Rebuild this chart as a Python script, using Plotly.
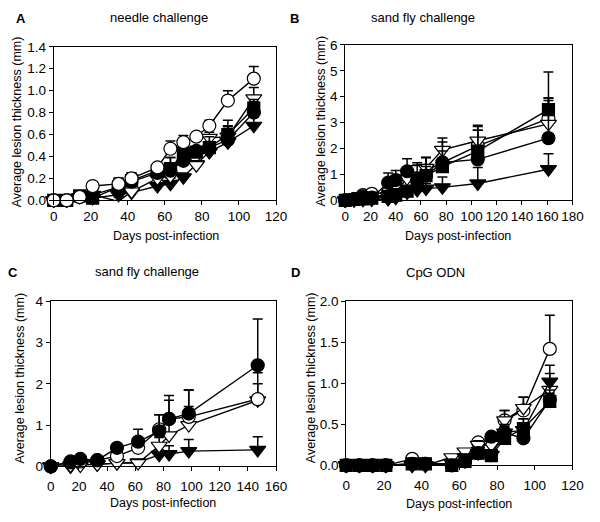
import plotly.graph_objects as go
from plotly.subplots import make_subplots

# ---- data ----
days_a = [0, 7, 14, 21, 35, 42, 56, 63, 70, 77, 84, 94, 108]
a_open_circ = [0, 0, 0.03, 0.13, 0.15, 0.20, 0.30, 0.47, 0.53, 0.58, 0.68, 0.91, 1.11]
a_open_circ_err = [0, 0, 0.01, 0.02, 0.05, 0.05, 0.02, 0.07, 0.06, 0.02, 0.05, 0.09, 0.11]
a_fill_circ = [0, 0, 0.03, 0.05, 0.12, 0.17, 0.25, 0.27, 0.36, 0.45, 0.48, 0.55, 0.80]
a_fill_circ_err = [0, 0, 0.01, 0.02, 0.06, 0.06, 0.03, 0.12, 0.08, 0.03, 0.05, 0.12, 0.10]
a_open_tri = [0, 0, -0.01, 0.05, -0.01, 0.08, 0.20, 0.22, 0.44, 0.32, 0.57, 0.58, 0.93]
a_open_tri_err = [0, 0, 0.01, 0.02, 0.04, 0.05, 0.03, 0.06, 0.06, 0.03, 0.05, 0.10, 0.10]
a_fill_tri = [0, 0, 0.03, 0.02, 0.05, 0.07, 0.13, 0.15, 0.21, 0.33, 0.44, 0.53, 0.68]
a_fill_tri_err = [0, 0, 0.01, 0.01, 0.04, 0.04, 0.03, 0.05, 0.04, 0.03, 0.04, 0.08, 0.08]
a_fill_sq = [0, 0, 0.04, 0.02, 0.12, 0.18, 0.27, 0.29, 0.43, 0.44, 0.48, 0.60, 0.84]
a_fill_sq_err = [0, 0, 0.01, 0.01, 0.08, 0.07, 0.03, 0.10, 0.07, 0.03, 0.10, 0.13, 0.08]

days_b = [0, 7, 14, 21, 34, 40, 49, 57, 64, 77, 105, 161]
b_fill_circ = [0, 0.05, 0.15, 0.10, 0.68, 0.78, 1.12, 0.78, 0.95, 1.46, 1.58, 2.40]
b_fill_circ_err = [0, 0.02, 0.05, 0.05, 0.37, 0.37, 0.48, 0.30, 0.35, 0.44, 1.12, 1.45]
b_open_circ = [0, 0.05, 0.20, 0.25, 0.30, 0.50, 0.60, 1.00, 1.15, 1.45, 2.10, 3.15]
b_open_circ_err = [0, 0.02, 0.05, 0.05, 0.10, 0.15, 0.20, 0.35, 0.50, 0.55, 0.60, 0.80]
b_open_tri = [0, 0.03, 0.05, 0.05, 0.15, 0.30, 0.85, 1.20, 1.25, 1.95, 2.30, 2.95]
b_open_tri_err = [0, 0.02, 0.03, 0.05, 0.10, 0.15, 0.30, 0.25, 0.40, 0.45, 0.55, 1.00]
b_fill_tri = [0, 0, 0.02, 0.03, 0.05, 0.10, 0.30, 0.40, 0.45, 0.50, 0.65, 1.20]
b_fill_tri_err = [0, 0, 0.02, 0.02, 0.05, 0.08, 0.15, 0.15, 0.20, 0.40, 0.62, 0.60]
b_fill_sq = [0, 0.03, 0.05, 0.08, 0.15, 0.20, 0.35, 0.75, 0.95, 1.30, 1.90, 3.50]
b_fill_sq_err = [0, 0.02, 0.03, 0.05, 0.10, 0.15, 0.20, 0.60, 0.70, 0.95, 1.00, 1.45]

days_c = [0, 14, 21, 33, 47, 62, 77, 84, 98, 147]
c_fill_circ = [0, 0.12, 0.18, 0.15, 0.45, 0.60, 0.85, 1.15, 1.28, 2.45]
c_fill_circ_err = [0, 0.03, 0.03, 0.03, 0.05, 0.30, 0.40, 0.57, 0.57, 1.12]
c_open_circ = [0, 0.10, 0.12, 0.15, 0.25, 0.45, 0.90, 1.15, 1.20, 1.63]
c_open_circ_err = [0, 0.02, 0.03, 0.03, 0.05, 0.10, 0.35, 0.45, 0.65, 0.64]
c_open_tri = [0, 0.02, 0.02, 0.05, 0.08, 0.08, 0.50, 0.75, 1.00, 1.60]
c_open_tri_err = [0, 0.02, 0.02, 0.02, 0.03, 0.05, 0.20, 0.35, 0.45, 0.40]
c_fill_tri = [0, 0.0, 0.05, 0.05, 0.08, 0.10, 0.28, 0.30, 0.37, 0.40]
c_fill_tri_err = [0, 0.02, 0.02, 0.02, 0.03, 0.05, 0.12, 0.20, 0.28, 0.32]

days_d = [0, 7, 14, 21, 35, 42, 56, 63, 70, 77, 84, 94, 108]
d_open_circ = [0, 0, 0, 0, 0.08, 0.02, 0.02, 0.05, 0.28, 0.30, 0.55, 0.67, 1.42]
d_open_circ_err = [0, 0, 0, 0, 0.02, 0.02, 0.02, 0.03, 0.02, 0.05, 0.12, 0.16, 0.41]
d_fill_circ = [0, 0, 0, 0, 0.02, 0.02, 0.0, 0.05, 0.15, 0.35, 0.40, 0.33, 0.80]
d_fill_circ_err = [0, 0, 0, 0, 0.02, 0.02, 0.02, 0.03, 0.05, 0.03, 0.07, 0.10, 0.12]
d_open_tri = [0, 0, 0, 0, 0.0, 0.0, 0.10, 0.17, 0.25, 0.25, 0.55, 0.70, 0.92]
d_open_tri_err = [0, 0, 0, 0, 0.02, 0.02, 0.03, 0.03, 0.05, 0.05, 0.12, 0.13, 0.20]
d_fill_tri = [0, 0, 0, 0, 0.0, 0.0, 0.03, 0.10, 0.15, 0.13, 0.40, 0.43, 1.02]
d_fill_tri_err = [0, 0, 0, 0, 0.02, 0.02, 0.03, 0.03, 0.05, 0.05, 0.10, 0.14, 0.20]
d_fill_sq = [0, 0, 0, 0, 0.02, 0.02, 0.0, 0.05, 0.15, 0.12, 0.33, 0.45, 0.78]
d_fill_sq_err = [0, 0, 0, 0, 0.02, 0.02, 0.02, 0.03, 0.05, 0.05, 0.08, 0.12, 0.10]

FONT = "Liberation Sans, Arial, sans-serif"

styles = {
    "fill_tri": dict(symbol="triangle-down", color="black", size=14),
    "open_tri": dict(symbol="triangle-down", color="white", size=14),
    "fill_circ": dict(symbol="circle", color="black", size=13),
    "fill_sq": dict(symbol="square", color="black", size=12),
    "open_circ": dict(symbol="circle", color="white", size=13),
}


def add_series(fig, x, y, err, kind, row, col):
    st = styles[kind]
    fig.add_trace(go.Scatter(
        x=x, y=y, mode="lines+markers", cliponaxis=False,
        line=dict(color="black", width=1.4),
        marker=dict(symbol=st["symbol"], size=st["size"], color=st["color"],
                    line=dict(color="black", width=1.2)),
        error_y=dict(type="data", array=err, arrayminus=[0] * len(err), symmetric=False,
                     color="black", thickness=1.5, width=5),
        showlegend=False), row=row, col=col)


fig = make_subplots(rows=2, cols=2)

add_series(fig, days_a, a_fill_tri, a_fill_tri_err, "fill_tri", 1, 1)
add_series(fig, days_a, a_open_tri, a_open_tri_err, "open_tri", 1, 1)
add_series(fig, days_a, a_fill_circ, a_fill_circ_err, "fill_circ", 1, 1)
add_series(fig, days_a, a_fill_sq, a_fill_sq_err, "fill_sq", 1, 1)
add_series(fig, days_a, a_open_circ, a_open_circ_err, "open_circ", 1, 1)

add_series(fig, days_b, b_fill_tri, b_fill_tri_err, "fill_tri", 1, 2)
add_series(fig, days_b, b_open_circ, b_open_circ_err, "open_circ", 1, 2)
add_series(fig, days_b, b_open_tri, b_open_tri_err, "open_tri", 1, 2)
add_series(fig, days_b, b_fill_circ, b_fill_circ_err, "fill_circ", 1, 2)
add_series(fig, days_b, b_fill_sq, b_fill_sq_err, "fill_sq", 1, 2)

add_series(fig, days_c, c_fill_tri, c_fill_tri_err, "fill_tri", 2, 1)
add_series(fig, days_c, c_open_tri, c_open_tri_err, "open_tri", 2, 1)
add_series(fig, days_c, c_open_circ, c_open_circ_err, "open_circ", 2, 1)
add_series(fig, days_c, c_fill_circ, c_fill_circ_err, "fill_circ", 2, 1)

add_series(fig, days_d, d_open_circ, d_open_circ_err, "open_circ", 2, 2)
add_series(fig, days_d, d_open_tri, d_open_tri_err, "open_tri", 2, 2)
add_series(fig, days_d, d_fill_tri, d_fill_tri_err, "fill_tri", 2, 2)
add_series(fig, days_d, d_fill_circ, d_fill_circ_err, "fill_circ", 2, 2)
add_series(fig, days_d, d_fill_sq, d_fill_sq_err, "fill_sq", 2, 2)

W, H = 600, 522


def px_x(v):
    return v / W


def px_y(v):
    return 1 - v / H


axis_common = dict(showline=True, mirror=True, linecolor="black", linewidth=1,
                   ticks="outside", ticklen=4, tickcolor="black", showgrid=False,
                   zeroline=False, tickfont=dict(family=FONT, size=13.5, color="black"))

# plot boxes in pixels: (x0, x1, ytop, ybottom)
boxes = {
    1: (51, 279, 41, 199),
    2: (350, 583, 39, 199),
    3: (48, 279, 303, 473),
    4: (351, 583, 303, 472),
}
xranges = {1: [0, 120], 2: [0, 180], 3: [0, 160], 4: [0, 120]}
yranges = {1: [0, 1.4], 2: [0, 6], 3: [0, 4], 4: [0, 2]}
ydt = {1: 0.2, 2: 1, 3: 1, 4: 0.5}
yfmt = {1: ".1f", 2: "d", 3: "d", 4: ".1f"}
xstand = {1: 0, 2: 0, 3: 3, 4: 3}

for i in range(1, 5):
    x0, x1, yt, yb = boxes[i]
    sx = "xaxis" if i == 1 else "xaxis%d" % i
    sy = "yaxis" if i == 1 else "yaxis%d" % i
    fig.layout[sx].update(domain=[px_x(x0), px_x(x1)], range=xranges[i], dtick=20,
                          ticklabelstandoff=xstand[i], **axis_common)
    fig.layout[sy].update(domain=[px_y(yb), px_y(yt)], range=yranges[i], dtick=ydt[i],
                          tickformat=yfmt[i], **axis_common)

ann = []


def txt(text, x, y, size=12.5, bold=False, angle=0):
    ann.append(dict(text="<b>%s</b>" % text if bold else text, x=px_x(x), y=px_y(y),
                    xref="paper", yref="paper", showarrow=False, textangle=angle,
                    xanchor="center", yanchor="middle",
                    font=dict(family=FONT, size=size, color="black")))


txt("A", 17, 12, 13, True)
txt("B", 298, 12, 13, True)
txt("C", 9, 273, 13, True)
txt("D", 299, 273, 13, True)
txt("needle challenge", 159, 11, 13)
txt("sand fly challenge", 430, 11, 13)
txt("sand fly challenge", 147, 272, 13)
txt("CpG ODN", 443, 273, 13)
txt("Days post-infection", 166, 236)
txt("Days post-infection", 466, 236)
txt("Days post-infection", 163, 511)
txt("Days post-infection", 467, 512)
ylab = "Average lesion thickness (mm)"
txt(ylab, 13, 118, angle=-90)
txt(ylab, 325, 117, angle=-90)
txt(ylab, 16, 382, angle=-90)
txt(ylab, 315, 382, angle=-90)

fig.update_layout(width=W, height=H, margin=dict(l=0, r=0, t=0, b=0),
                  paper_bgcolor="white", plot_bgcolor="white",
                  annotations=ann, showlegend=False)

# page body has a default 8px margin; drop it so the figure fills the window
fig.write_html("out.html", config={"displayModeBar": False},
               post_script="document.body.style.margin='0';")
